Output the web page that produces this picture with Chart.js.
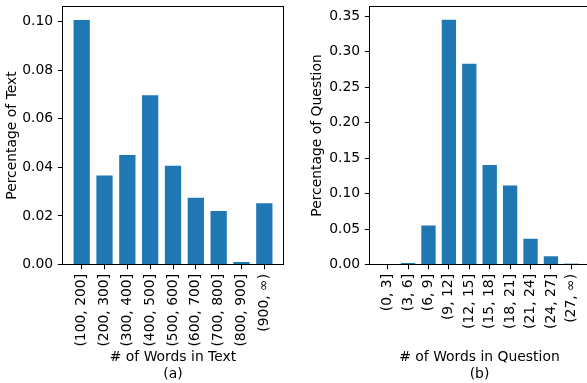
<!DOCTYPE html>
<html lang="en">
<head>
  <meta charset="UTF-8">
  <title>Words in Text / Question</title>
  <script src="https://cdn.jsdelivr.net/npm/chart.js"></script>
  <style>
    html, body { margin: 0; padding: 0; background: #fff; }
    .wrap { position: relative; width: 587px; height: 383px; overflow: hidden; }
    canvas { position: absolute; top: 0; }
    #chartA { left: 0; }
    #chartB { left: 290px; }
  </style>
</head>
<body>
<div class="wrap">
  <canvas id="chartA" width="290" height="383"></canvas>
  <canvas id="chartB" width="310" height="383"></canvas>
</div>
<script>
  // (a) text length
  const textLabels = ['(100, 200]', '(200, 300]', '(300, 400]', '(400, 500]', '(500, 600]',
                      '(600, 700]', '(700, 800]', '(800, 900]', '(900, \u221e)'];
  const textPct = [0.1012, 0.0371, 0.0455, 0.0701, 0.0411, 0.0279, 0.0225, 0.0014, 0.0256];
  const textTicks = [0, 0.02, 0.04, 0.06, 0.08, 0.10];

  // (b) question length
  const questionLabels = ['(0, 3]', '(3, 6]', '(6, 9]', '(9, 12]', '(12, 15]',
                          '(15, 18]', '(18, 21]', '(21, 24]', '(24, 27]', '(27, \u221e)'];
  const questionPct = [0, 0.0037, 0.0563, 0.3465, 0.2845, 0.1417, 0.1128, 0.0378, 0.0132, 0.0018];
  const questionTicks = [0, 0.05, 0.10, 0.15, 0.20, 0.25, 0.30, 0.35];

  const font = { family: 'DejaVu Sans', size: 13.9, lineHeight: 1.25 };
  Chart.defaults.color = '#000';

  // matplotlib style box around the plot area
  const frame = {
    id: 'frame',
    afterDatasetsDraw(chart) {
      const { ctx, chartArea: a } = chart;
      ctx.save();
      ctx.strokeStyle = '#000';
      ctx.lineWidth = 1;
      ctx.strokeRect(a.left, a.top, a.right - a.left, a.bottom - a.top);
      ctx.restore();
    }
  };

  function makeChart(id, labels, values, yTicks, yMax, xMin, xMax, xTitle, yTitle, yWidth, yTitlePad, padRight) {
    return new Chart(document.getElementById(id), {
      type: 'bar',
      data: {
        datasets: [{
          data: values.map((v, i) => ({ x: i, y: v })),
          backgroundColor: '#1f77b4',
          borderColor: 'rgba(255,255,255,0.45)',
          borderWidth: 1,
          categoryPercentage: 1,
          barPercentage: 0.8
        }]
      },
      options: {
        responsive: false,
        animation: false,
        events: [],
        layout: { padding: { top: 6.5, right: padRight, left: 0, bottom: 0 } },
        plugins: { legend: { display: false }, tooltip: { enabled: false } },
        scales: {
          x: {
            type: 'linear',
            offset: false,
            min: xMin,
            max: xMax,
            grid: { drawOnChartArea: false, offset: false, color: '#000', tickLength: 4.7 },
            border: { display: false },
            ticks: {
              autoSkip: false, minRotation: 90, maxRotation: 90, padding: 4.7,
              font: font, color: '#000',
              callback: v => labels[v]
            },
            afterBuildTicks: s => { s.ticks = labels.map((_, i) => ({ value: i })); },
            afterFit: s => { s.height = 118.5; s.paddingLeft = 0; s.paddingRight = 0; },
            title: { display: true, text: xTitle, font: font, color: '#000', padding: 0 }
          },
          y: {
            min: 0,
            max: yMax,
            grid: { drawOnChartArea: false, color: '#000', tickLength: 4.7 },
            border: { display: false },
            ticks: { padding: 4.7, font: font, color: '#000', callback: v => v.toFixed(2) },
            afterBuildTicks: s => { s.ticks = yTicks.map(v => ({ value: v })); },
            afterFit: s => { s.width = yWidth; s.paddingTop = 0; s.paddingBottom = 0; },
            title: { display: true, text: yTitle, font: font, color: '#000', padding: { top: yTitlePad, bottom: 0 } }
          }
        }
      },
      plugins: [frame]
    });
  }

  makeChart('chartA', textLabels, textPct, textTicks, 0.1063, -0.84, 8.84,
            ['# of Words in Text', '(a)'], 'Percentage of Text', 62.5, 3.3, 6.5);
  makeChart('chartB', questionLabels, questionPct, questionTicks, 0.3638, -0.89, 9.89,
            ['# of Words in Question', '(b)'], 'Percentage of Question', 79.5, 18.8, 10.5);
</script>
</body>
</html>
